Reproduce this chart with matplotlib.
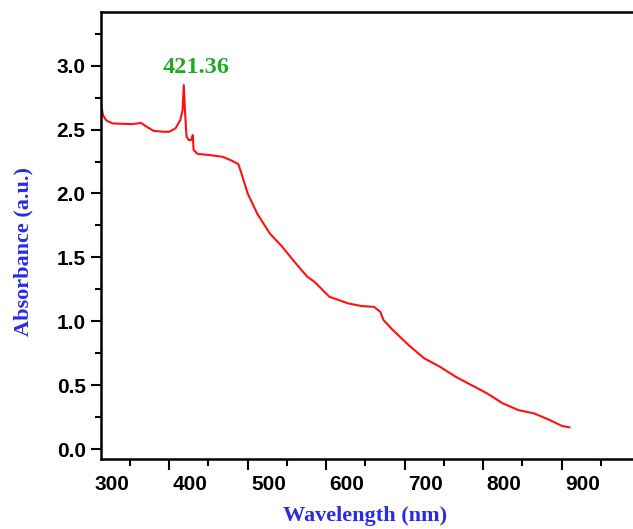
import numpy as np
import matplotlib.pyplot as plt
from matplotlib import transforms

# UV-Vis absorbance spectrum
wavelength = [313, 315.6, 320, 328, 340, 352, 360, 364, 370, 380, 392, 400, 408, 414, 417,
              418.5, 420, 422, 425, 428, 430, 431, 436, 452, 468, 480, 488, 492, 500,
              512, 528, 544, 556, 565, 576, 585, 604, 628, 645, 661, 669, 673, 685,
              705, 725, 745, 765, 785, 805, 825, 845, 865, 885, 901, 910]
absorbance = [2.70, 2.61, 2.57, 2.548, 2.545, 2.543, 2.548, 2.553, 2.527, 2.49, 2.483, 2.483,
              2.51, 2.574, 2.653, 2.848, 2.653, 2.444, 2.418, 2.418, 2.457, 2.34, 2.31,
              2.30, 2.287, 2.256, 2.23, 2.157, 2.0, 1.844, 1.688, 1.583, 1.492, 1.426,
              1.348, 1.309, 1.192, 1.14, 1.119, 1.113, 1.074, 1.01, 0.931, 0.814, 0.71,
              0.644, 0.566, 0.501, 0.436, 0.358, 0.305, 0.279, 0.227, 0.18, 0.17]
peak_label = "421.36"
peak_x = 418.5
xtick_values = [300, 400, 500, 600, 700, 800, 900]


def main():
    fig = plt.figure(figsize=(6.33, 5.29), dpi=100)
    ax = fig.add_axes([101 / 633, 69.7 / 529, 539 / 633, 447.3 / 529])

    ax.plot(wavelength, absorbance, color='#ff1010', linewidth=1.5)

    ax.set_xlim(313, 961)
    ax.set_ylim(-0.08, 3.42)

    # frame (right side is cut off in the original)
    for side in ['left', 'bottom', 'top']:
        ax.spines[side].set_linewidth(1.8)
        ax.spines[side].set_color('black')
    ax.spines['right'].set_visible(False)

    # ticks
    ax.set_xticks(np.arange(400, 1001, 100))
    ax.set_xticks(np.arange(350, 1001, 50), minor=True)
    ax.set_xticklabels([])
    ax.set_yticks(np.arange(0, 3.01, 0.5))
    ax.set_yticks(np.arange(0, 3.3, 0.25), minor=True)
    ax.tick_params(axis='x', which='major', direction='out', length=8, width=1.5)
    ax.tick_params(axis='x', which='minor', direction='out', length=5, width=1.5)
    ax.tick_params(axis='y', which='major', direction='out', length=7, width=1.5, pad=4)
    ax.tick_params(axis='y', which='minor', direction='out', length=4, width=1.5)
    ax.set_yticklabels([f"{v:.1f}" for v in np.arange(0, 3.01, 0.5)],
                       fontsize=15, fontweight='bold', family='Liberation Sans')

    # x tick labels sit a little right of the ticks in the original
    shift = transforms.ScaledTranslation(0.21, 0, fig.dpi_scale_trans)
    trans = transforms.blended_transform_factory(ax.transData, ax.transAxes) + shift
    for v in xtick_values:
        ax.text(v, -0.036, str(v), transform=trans, ha='center', va='top',
                fontsize=15, fontweight='bold', family='Liberation Sans', clip_on=False)

    ax.set_xlabel('Wavelength (nm)', fontsize=16, fontweight='bold',
                  family='Liberation Serif', color='#2a2ae8')
    ax.xaxis.set_label_coords(0.49, -0.105)
    ax.set_ylabel('Absorbance (a.u.)', fontsize=16, fontweight='bold',
                  family='Liberation Serif', color='#2a2ae8')
    ax.yaxis.set_label_coords(-0.125, 0.465)

    ax.annotate(peak_label, xy=(peak_x, max(absorbance)), xytext=(9, 9),
                textcoords='offset points', ha='center', va='baseline',
                fontsize=17.5, fontweight='bold', family='Liberation Serif',
                color='#22aa22')

    fig.savefig('out.png', dpi=100)


if __name__ == "__main__":
    main()
